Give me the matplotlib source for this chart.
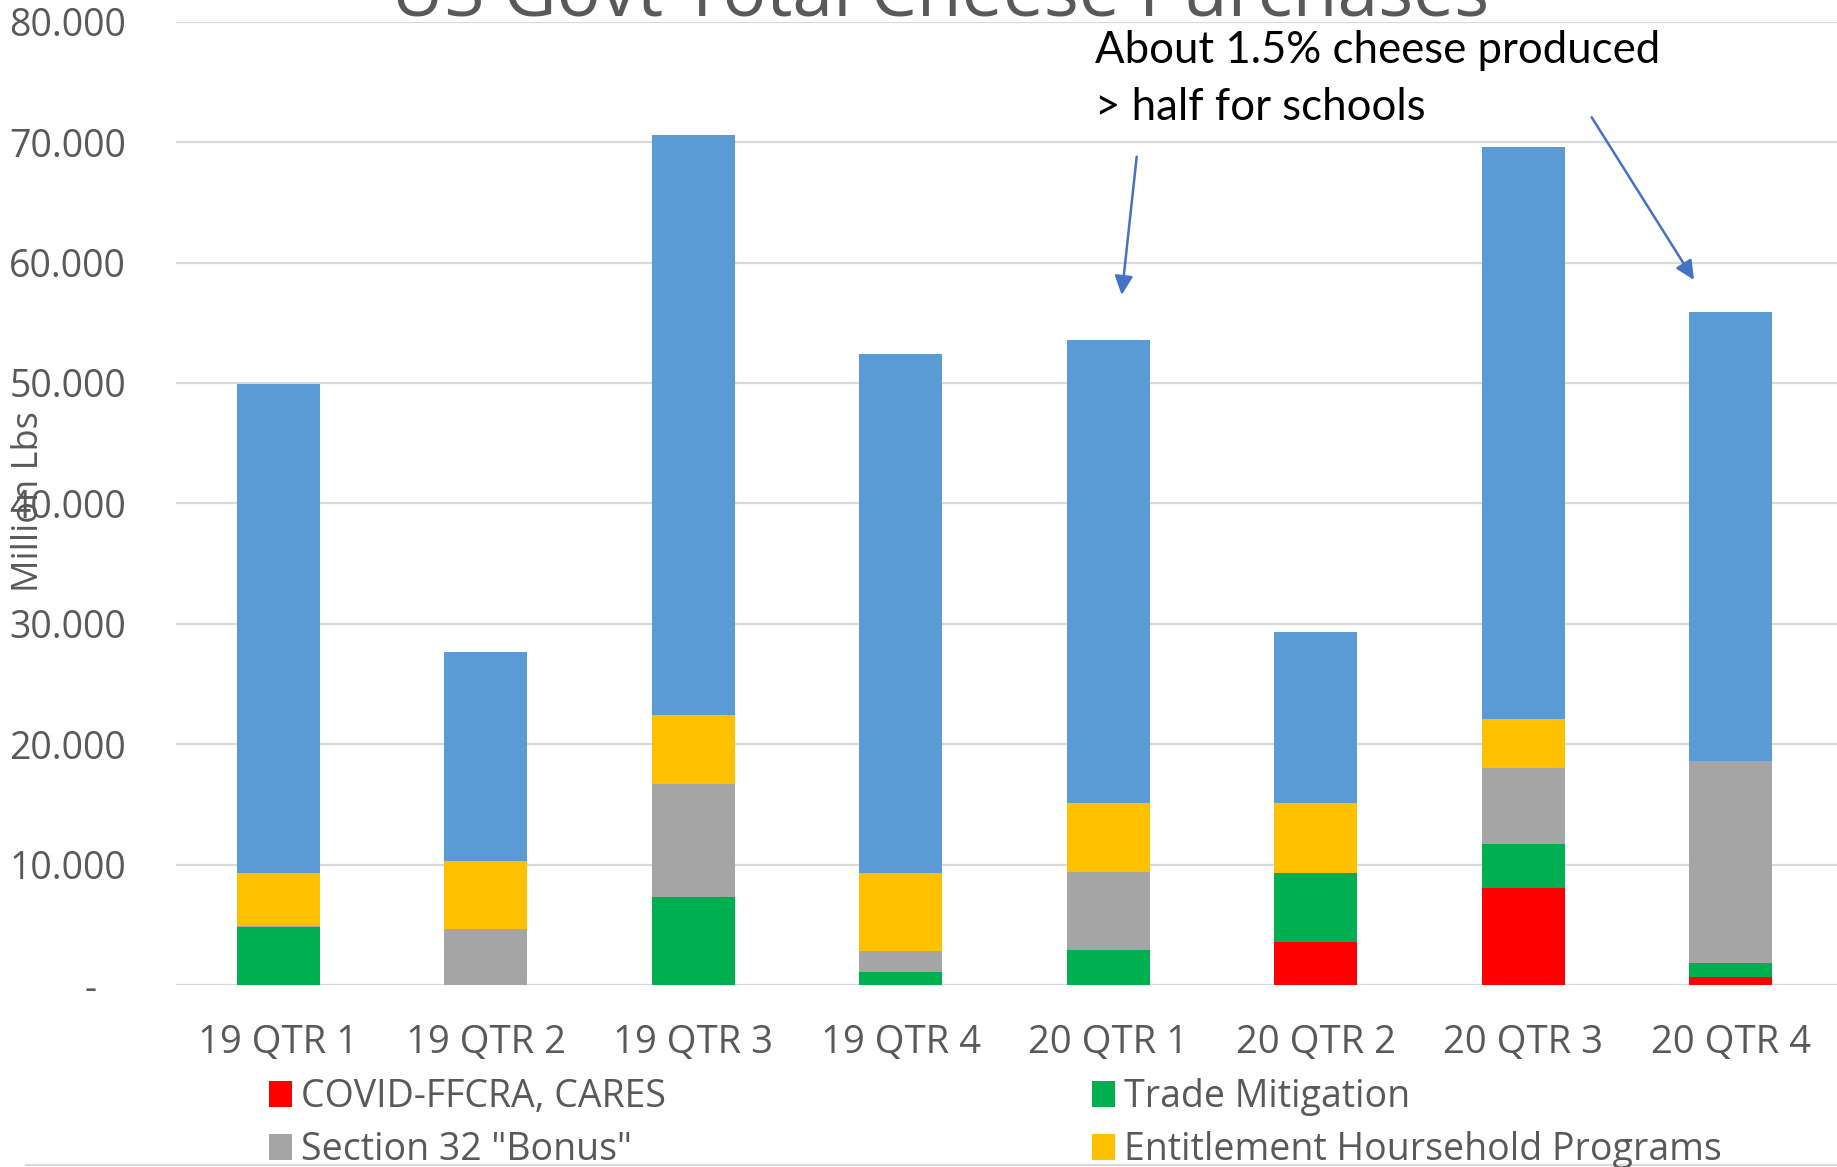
import matplotlib
matplotlib.use("Agg")
import matplotlib.pyplot as plt
import numpy as np
from matplotlib.lines import Line2D

plt.rcParams['font.family'] = ['Open Sans', 'DejaVu Sans']

categories = ["19 QTR 1", "19 QTR 2", "19 QTR 3", "19 QTR 4",
              "20 QTR 1", "20 QTR 2", "20 QTR 3", "20 QTR 4"]
covid = [0.0, 0.0, 0.0, 0.0, 0.0, 3.54, 8.07, 0.66]
trade = [4.78, 0.0, 7.32, 1.04, 2.87, 5.77, 3.60, 1.16]
section32 = [0.13, 4.61, 9.35, 1.75, 6.52, 0.0, 6.33, 16.78]
entitlement = [4.43, 5.66, 5.73, 6.51, 5.71, 5.79, 4.10, 0.0]
schools = [40.56, 17.37, 48.2, 43.1, 38.5, 14.2, 47.5, 37.3]
ytick_vals = [0, 10, 20, 30, 40, 50, 60, 70, 80]
ytick_labels = ["-   ", "10.000", "20.000", "30.000", "40.000",
                "50.000", "60.000", "70.000", "80.000"]

W, H = 1837, 1167
fig = plt.figure(figsize=(W / 100, H / 100), dpi=100)
ax = fig.add_axes([176 / W, 1 - 985 / H, 1 - 176 / W, (985 - 21.7) / H])

x = np.arange(len(categories))
width = 0.40
series = [
    ("COVID-FFCRA, CARES", covid, "#FF0000"),
    ("Trade Mitigation", trade, "#00B050"),
    ('Section 32 "Bonus"', section32, "#A5A5A5"),
    ("Entitlement Hoursehold Programs", entitlement, "#FFC000"),
    ("School Programs", schools, "#5B9BD5"),
]
bottom = np.zeros(len(categories))
handles = {}
for name, vals, col in series:
    b = ax.bar(x, vals, width, bottom=bottom, color=col, edgecolor='none',
               label=name, zorder=3)
    handles[name] = b
    bottom += np.array(vals)

ax.set_xlim(-0.494, 7.511)
ax.set_ylim(0, 80)
ax.set_yticks(ytick_vals)
ax.set_yticklabels(ytick_labels)
ax.set_xticks(x)
ax.set_xticklabels(categories)
ax.tick_params(axis='y', length=0, pad=36, labelsize=27, labelcolor='#595959')
ax.tick_params(axis='x', length=0, pad=28, labelsize=27.5, labelcolor='#595959')
for s in ax.spines.values():
    s.set_visible(False)
ax.yaxis.grid(True, color='#D9D9D9', linewidth=1.6, zorder=0)
ax.set_axisbelow(True)

# y label
fig.text(29 / W, 1 - 502 / H, "Million Lbs", rotation=90, ha='center',
         va='center', fontsize=26, color='#595959')

# title (partially cut at top)
fig.text(940 / W, 1 - 15 / H, "US Govt Total Cheese Purchases", ha='center',
         va='baseline', fontsize=52.7, color='#595959')

# annotation text
fig.text(1095 / W, 1 - 63 / H, "About 1.5% cheese produced", ha='left',
         va='baseline', fontsize=31.5, color='black', family=['Lato', 'DejaVu Sans'])
fig.text(1095 / W, 1 - 120 / H, "> half for schools", ha='left',
         va='baseline', fontsize=31.5, color='black', family=['Lato', 'DejaVu Sans'])

arrow_kw = dict(arrowstyle='-|>,head_length=1.15,head_width=0.55',
                color='#4472C4', lw=1.8, shrinkA=0, shrinkB=0,
                mutation_scale=10)
ax.annotate("", xy=(1121.7, H - 295), xytext=(1136.7, H - 156.7),
            xycoords='figure pixels', textcoords='figure pixels',
            arrowprops=arrow_kw, annotation_clip=False)
ax.annotate("", xy=(1694, H - 280), xytext=(1591.7, H - 117.3),
            xycoords='figure pixels', textcoords='figure pixels',
            arrowprops=arrow_kw, annotation_clip=False)

# legends
leg_kw = dict(frameon=False, fontsize=27, handlelength=0.61, handleheight=0.67,
              handletextpad=0.24, borderpad=0, borderaxespad=0,
              labelspacing=0.4, loc='upper left', labelcolor='#595959')
l1 = fig.legend([handles["COVID-FFCRA, CARES"], handles['Section 32 "Bonus"']],
                ["COVID-FFCRA, CARES", 'Section 32 "Bonus"'],
                bbox_to_anchor=(269 / W, 1 - 1078 / H), **leg_kw)
l2 = fig.legend([handles["Trade Mitigation"], handles["Entitlement Hoursehold Programs"]],
                ["Trade Mitigation", "Entitlement Hoursehold Programs"],
                bbox_to_anchor=(1092 / W, 1 - 1078 / H), **leg_kw)

# bottom border line of chart area
fig.add_artist(Line2D([26 / W, 1], [1 - 1165 / H, 1 - 1165 / H],
                      transform=fig.transFigure, color='#D9D9D9', lw=1.6))

fig.savefig("out.png", dpi=100)
